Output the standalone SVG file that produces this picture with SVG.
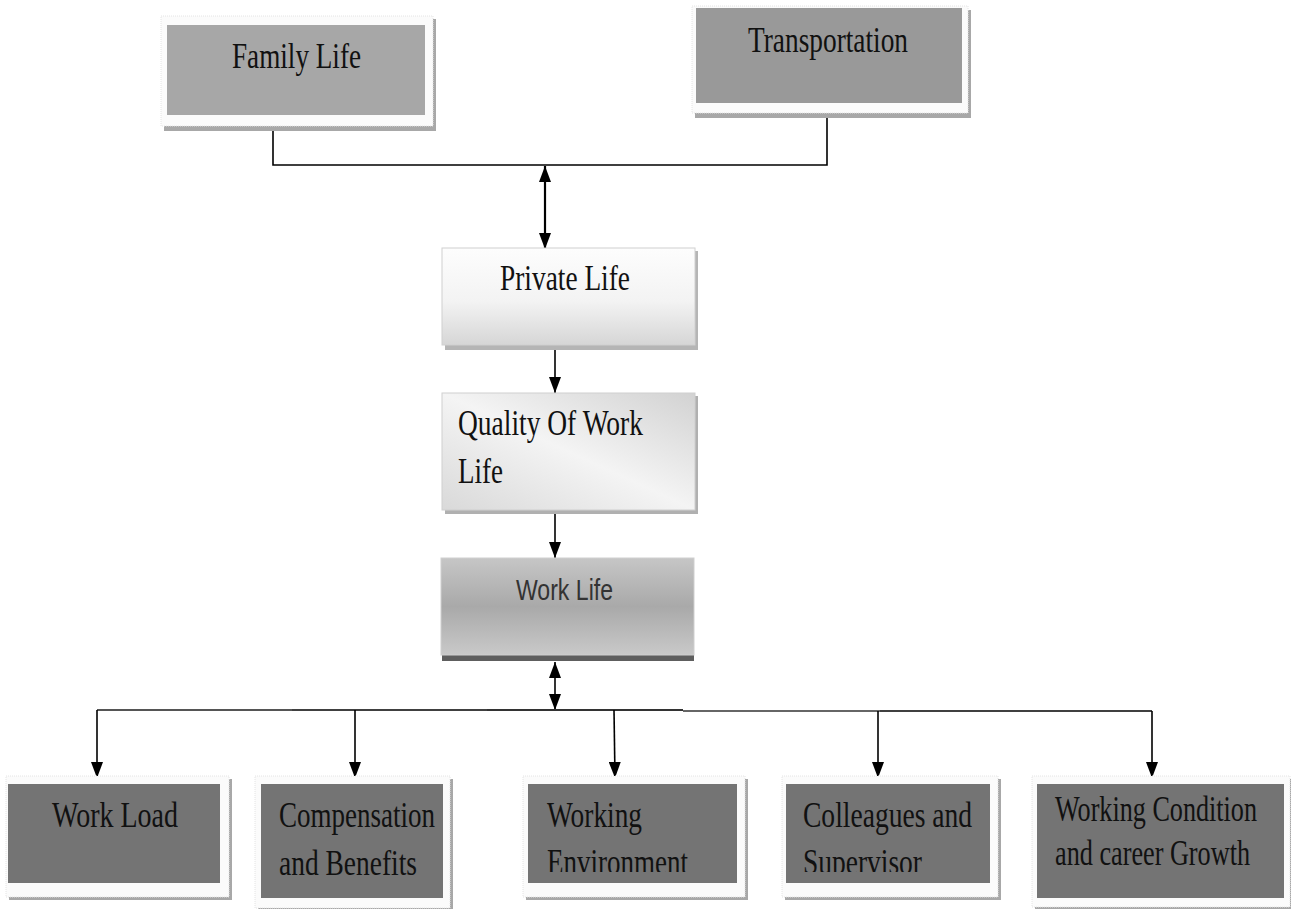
<svg xmlns="http://www.w3.org/2000/svg" width="1291" height="909" viewBox="0 0 1291 909">
<style>
.frame{fill:#fbfbfb;stroke:#e4e4e4;stroke-width:1;stroke-dasharray:1 1}
.shadow{fill:#a8a8a8}
.t{font-family:"Liberation Serif","Times New Roman",serif;font-size:35px;fill:#111}
.s{font-family:"Liberation Sans",Arial,sans-serif;font-size:30px;fill:#333}
.c{fill:none;stroke:#000;stroke-width:1.6}
.c2{fill:none;stroke:#000;stroke-width:2.2}
.dark{fill:#747474}
</style>
<defs>
<marker id="ah" viewBox="0 0 16 12" refX="16" refY="6" markerWidth="16" markerHeight="12" orient="auto-start-reverse" markerUnits="userSpaceOnUse">
<path d="M0,0 L16,6 L0,12 z" fill="#000"/>
</marker>
<linearGradient id="gPriv" x1="0" y1="0" x2="0" y2="1">
<stop offset="0" stop-color="#fdfdfd"/>
<stop offset="0.55" stop-color="#f3f3f3"/>
<stop offset="1" stop-color="#d6d6d6"/>
</linearGradient>
<linearGradient id="gQual" x1="0" y1="1" x2="1" y2="0">
<stop offset="0" stop-color="#d9d9d9"/>
<stop offset="0.5" stop-color="#f4f4f4"/>
<stop offset="1" stop-color="#d2d2d2"/>
</linearGradient>
<linearGradient id="gWork" x1="0" y1="0" x2="0" y2="1">
<stop offset="0" stop-color="#c6c6c6"/>
<stop offset="0.5" stop-color="#a9a9a9"/>
<stop offset="1" stop-color="#c9c9c9"/>
</linearGradient>
<clipPath id="clipLow"><rect x="0" y="0" width="1291" height="872"/></clipPath>
</defs>

<g id="connectors">
<path class="c" d="M273,130 V165 H827 V118"/>
<path class="c2" d="M545,166 V249" marker-start="url(#ah)" marker-end="url(#ah)"/>
<path class="c" d="M555,347 V393" marker-end="url(#ah)"/>
<path class="c" d="M555,514 V558" marker-end="url(#ah)"/>
<path class="c" d="M555,662 V710" marker-start="url(#ah)" marker-end="url(#ah)"/>
<path d="M97,710 H292" stroke="#555" stroke-width="2" fill="none"/>
<path d="M292,710 H487" stroke="#000" stroke-width="1.6" fill="none"/>
<path d="M487,710 H683" stroke="#333" stroke-width="1.8" fill="none"/>
<path d="M683,711 H880" stroke="#666" stroke-width="2" fill="none"/>
<path d="M880,711 H1152" stroke="#000" stroke-width="1.6" fill="none"/>
<path class="c" d="M97,710 V778" marker-end="url(#ah)"/>
<path class="c" d="M355,710 V778" marker-end="url(#ah)"/>
<path class="c" d="M614,710 L615,778" marker-end="url(#ah)"/>
<path class="c" d="M878,711 V778" marker-end="url(#ah)"/>
<path class="c" d="M1152,711 V778" marker-end="url(#ah)"/>
</g>

<g id="family-life">
<rect class="shadow" x="164" y="19" width="272" height="112"/>
<rect class="frame" x="161" y="16" width="272" height="110"/>
<rect x="167" y="25" width="258" height="90" fill="#a7a7a7"/>
<text class="t" x="232" y="68" textLength="129" lengthAdjust="spacingAndGlyphs">Family Life</text>
</g>

<g id="transportation">
<rect class="shadow" x="695" y="10" width="276" height="108"/>
<rect class="frame" x="692" y="6" width="276" height="107"/>
<rect x="696" y="8" width="266" height="95" fill="#999999"/>
<text class="t" x="748" y="52" textLength="160" lengthAdjust="spacingAndGlyphs">Transportation</text>
</g>

<g id="private-life">
<rect x="445" y="251" width="253" height="99" fill="#b5b5b5"/>
<rect x="442" y="248" width="253" height="97" fill="url(#gPriv)" stroke="#d0d0d0" stroke-width="1"/>
<text class="t" x="500" y="290" textLength="130" lengthAdjust="spacingAndGlyphs">Private Life</text>
</g>

<g id="quality-of-work-life">
<rect x="445" y="396" width="253" height="118" fill="#b0b0b0"/>
<rect x="442" y="393" width="253" height="117" fill="url(#gQual)" stroke="#cfcfcf" stroke-width="1"/>
<text class="t" x="458" y="435" textLength="185" lengthAdjust="spacingAndGlyphs">Quality Of Work</text>
<text class="t" x="458" y="483" textLength="45" lengthAdjust="spacingAndGlyphs">Life</text>
</g>

<g id="work-life">
<rect x="442" y="655" width="252" height="6" fill="#5e5e5e"/>
<rect x="441" y="558" width="253" height="97" fill="url(#gWork)" stroke="#cfcfcf" stroke-width="1"/>
<text class="s" x="516" y="600" textLength="97" lengthAdjust="spacingAndGlyphs">Work Life</text>
</g>

<g id="work-load">
<rect class="shadow" x="9" y="779" width="223" height="121"/>
<rect class="frame" x="6" y="776" width="223" height="121"/>
<rect class="dark" x="8" y="784" width="212" height="99"/>
<text class="t" x="52" y="827" textLength="126" lengthAdjust="spacingAndGlyphs">Work Load</text>
</g>

<g id="compensation">
<rect class="shadow" x="258" y="779" width="195" height="130"/>
<rect class="frame" x="255" y="776" width="195" height="132"/>
<rect class="dark" x="261" y="784" width="182" height="114"/>
<text class="t" x="279" y="827" textLength="156" lengthAdjust="spacingAndGlyphs">Compensation</text>
<text class="t" x="279" y="875" textLength="138" lengthAdjust="spacingAndGlyphs">and Benefits</text>
</g>

<g id="working-environment">
<rect class="shadow" x="526" y="779" width="222" height="121"/>
<rect class="frame" x="523" y="776" width="222" height="121"/>
<rect class="dark" x="528" y="784" width="209" height="99"/>
<text class="t" x="547" y="827" textLength="95" lengthAdjust="spacingAndGlyphs">Working</text>
<text class="t" x="547" y="874" textLength="141" lengthAdjust="spacingAndGlyphs" clip-path="url(#clipLow)">Environment</text>
</g>

<g id="colleagues">
<rect class="shadow" x="785" y="779" width="216" height="121"/>
<rect class="frame" x="782" y="776" width="216" height="121"/>
<rect class="dark" x="786" y="784" width="204" height="99"/>
<text class="t" x="803" y="827" textLength="169" lengthAdjust="spacingAndGlyphs">Colleagues and</text>
<text class="t" x="803" y="874" textLength="119" lengthAdjust="spacingAndGlyphs" clip-path="url(#clipLow)">Supervisor</text>
</g>

<g id="working-condition">
<rect class="shadow" x="1035" y="779" width="256" height="130"/>
<rect class="frame" x="1032" y="776" width="258" height="131"/>
<rect class="dark" x="1037" y="784" width="247" height="114"/>
<text class="t" transform="translate(1055,821) scale(0.7,1)" x="0" y="0" textLength="288.6" lengthAdjust="spacingAndGlyphs">Working Condition</text>
<text class="t" transform="translate(1055,865) scale(0.7,1)" x="0" y="0" textLength="278.6" lengthAdjust="spacingAndGlyphs">and career Growth</text>
</g>
</svg>
